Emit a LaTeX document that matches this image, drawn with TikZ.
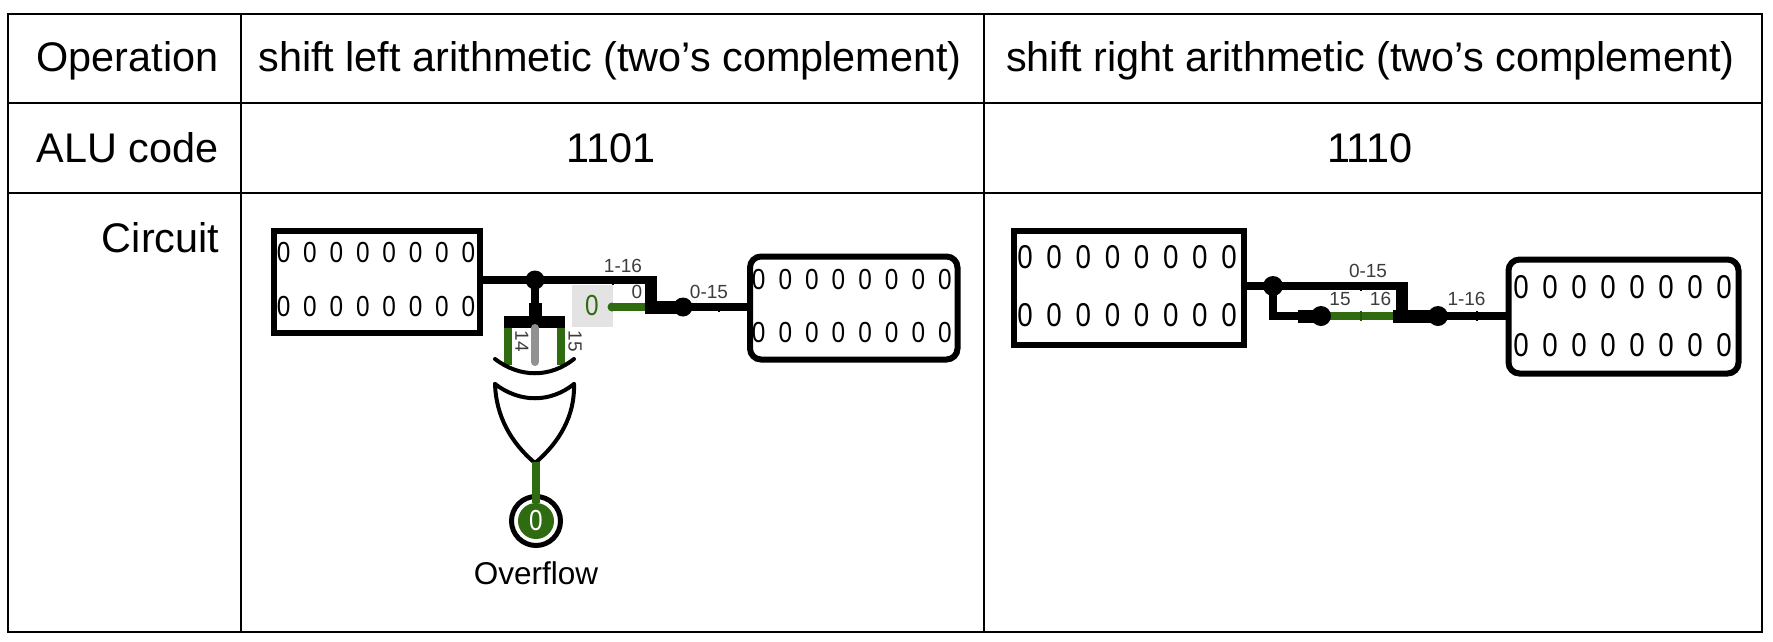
\documentclass[tikz,border=0pt]{standalone}
\usepackage{fontspec}
\setmainfont{Liberation Sans}
\definecolor{wiregreen}{HTML}{2F6B10}
\definecolor{wiregrey}{HTML}{929292}
\definecolor{pinbg}{HTML}{E3E3E3}
\definecolor{labelgrey}{HTML}{3C3C3C}
\newcommand{\fsz}[1]{\fontsize{#1pt}{#1pt}\selectfont}
\newcommand{\slimzero}{\scalebox{0.84}[1]{0}}
\tikzset{
  x=1pt,y=-1pt,
  gridline/.style={draw=black,line width=2pt},
  celltext/.style={inner sep=0,anchor=base,font=\fsz{41.4}},
  celltextr/.style={inner sep=0,anchor=base east,font=\fsz{41.4}},
  squarereg/.style={draw=black,line width=6pt,fill=white,inner sep=0,outer sep=0},
  roundreg/.style={draw=black,line width=6pt,fill=white,inner sep=0,outer sep=0,rounded corners=11pt},
  smalldigit/.style={inner sep=0,font=\fsz{29}},
  bigdigit/.style={inner sep=0,font=\fsz{33}},
  wirelabel/.style={inner sep=0,text=labelgrey,font=\fsz{19}},
  busw/.style={draw=black,line width=8pt},
  fatw/.style={draw=black,line width=13pt},
  greenw/.style={draw=wiregreen,line width=7.5pt},
  greyw/.style={draw=wiregrey,line width=8pt,line cap=round},
  tick/.style={draw=black,line width=2pt},
  gateline/.style={draw=black,line width=4pt,line cap=round,line join=round},
  junction/.style={circle,fill=black,inner sep=0,outer sep=0,minimum size=#1},
}
\begin{document}
\begin{tikzpicture}
\useasboundingbox (0,0) rectangle (1773,641);
\fill[white] (0,0) rectangle (1773,641);

% table grid
\draw[gridline] (8,13.5) rectangle (1762,632);
\draw[gridline] (8,103) -- (1762,103);
\draw[gridline] (8,192.5) -- (1762,192.5);
\draw[gridline] (241,13.5) -- (241,632);
\draw[gridline] (984,13.5) -- (984,632);

% table text
\node[celltextr] (opname) at (218.5,71) {Operation};
\node[celltextr] (aluname) at (218.5,162) {ALU code};
\node[celltextr] (circname) at (219.5,252) {Circuit};
\node[celltext] (opleft) at (610,71) {shift left arithmetic (two’s complement)};
\node[celltext] (opright) at (1370.5,71) {shift right arithmetic (two’s complement)};
\node[celltext] (codeleft) at (611,162) {1101};
\node[celltext] (coderight) at (1370,162) {1110};

% ---------- left circuit ----------
\node[squarereg,minimum width=205.5pt,minimum height=102pt] (lin) at (377,281.5) {};
\node[roundreg,minimum width=207.5pt,minimum height=103pt] (lout) at (853.75,308) {};
\foreach \i in {0,...,7}{
  \node[smalldigit] (lina\i) at ({283.6+26.4*\i},253) {\slimzero};
  \node[smalldigit] (linb\i) at ({283.6+26.4*\i},307) {\slimzero};
  \node[smalldigit] (louta\i) at ({758.7+26.6*\i},280) {\slimzero};
  \node[smalldigit] (loutb\i) at ({758.7+26.6*\i},333) {\slimzero};
}
\fill[pinbg] (572,285) rectangle (613,327);
\node[inner sep=0,text=wiregreen,font=\fsz{29}] (lconst) at (592,306) {\slimzero};

\coordinate (ljn) at (535,280);
\coordinate (lcorner) at (651,280);
\coordinate (lcornerb) at (651,307);
\coordinate (lmerge) at (683,307);
\coordinate (lgreenend) at (612,307);
\coordinate (lbaru) at (535,303);
\coordinate (lbarc) at (535,317);

\draw[greenw] (lgreenend) -- (lcornerb);
\fill[wiregreen] (lgreenend) circle (4.5);
\draw[busw] (lin.east |- ljn) -- (ljn) -- (lcorner);
\draw[draw=black,line width=12pt] (651,276) -- (lcornerb);
\draw[fatw] (645,307) -- (lmerge);
\draw[busw] (lmerge) -- (lout.west |- lmerge);
\node[junction=19pt] (ljunctop) at (ljn) {};
\node[junction=19pt] (ljuncout) at (lmerge) {};
\draw[busw] (ljn) -- (lbaru);
\draw[fatw] (lbaru) -- (lbarc);
\fill[black] (504,316) rectangle (565,328) coordinate (lbarend);

\coordinate (lg1t) at (508,328);
\coordinate (lg1b) at (508,365);
\coordinate (lg2t) at (561,328);
\coordinate (lg2b) at (561,365);
\coordinate (lg3t) at (535,328);
\coordinate (lg3b) at (535,362);
\draw[greenw] (lg1t) -- (lg1b);
\draw[greenw] (lg2t) -- (lg2b);
\draw[greyw] (lg3t) -- (lg3b);

\draw[tick] (613,276) -- (613,285);
\draw[tick] (719,303) -- (719,312);
\node[wirelabel] (l116) at (623,266) {1-16};
\node[wirelabel] (l0) at (637,292) {0};
\node[wirelabel] (l015) at (709,292) {0-15};
\node[wirelabel,rotate=-90] (l14) at (522,341) {14};
\node[wirelabel,rotate=-90] (l15) at (575,341) {15};

% xor gate
\draw[gateline] (495,359) .. controls (520,378) and (550,378) .. (574,359);
\draw[gateline] (495,384) .. controls (520,403) and (550,403) .. (574,384);
\draw[gateline] (495,384) .. controls (496,415) and (510,442) .. (535,463);
\draw[gateline] (574,384) .. controls (575,415) and (560,442) .. (535,463);

\coordinate (loutw) at (536,462);
\node[circle,draw=black,line width=5pt,fill=white,minimum size=49pt,inner sep=0] (lpin) at (536,521) {};
\node[circle,fill=wiregreen,minimum size=36pt,inner sep=0,text=white,font=\fsz{29}] (lpinv) at (536,521) {\slimzero};
\draw[greenw] (loutw) -- (lpinv.north);
\node[inner sep=0,font=\fsz{31.5}] (lover) at (536,573) {Overflow};

% ---------- right circuit ----------
\node[squarereg,minimum width=230pt,minimum height=114pt] (rin) at (1128.5,287.5) {};
\node[roundreg,minimum width=230pt,minimum height=114pt] (rout) at (1623.5,316.5) {};
\foreach \i in {0,...,7}{
  \node[bigdigit] (rina\i) at ({1025+29.15*\i},257) {\slimzero};
  \node[bigdigit] (rinb\i) at ({1025+29.15*\i},315) {\slimzero};
  \node[bigdigit] (routa\i) at ({1521+29*\i},287) {\slimzero};
  \node[bigdigit] (routb\i) at ({1521+29*\i},345) {\slimzero};
}
\coordinate (rjn) at (1273,286);
\coordinate (rcorner) at (1402,286);
\coordinate (rcornerb) at (1402,316);
\coordinate (rlow) at (1273,316);
\coordinate (rsplit) at (1321,316);
\coordinate (rgreenend) at (1393,316);
\coordinate (rmerge) at (1438,316);

\draw[greenw] (rsplit) -- (rgreenend);
\draw[busw] (rin.east |- rjn) -- (rjn) -- (rcorner);
\draw[draw=black,line width=12pt] (1402,282) -- (rcornerb);
\draw[busw] (rjn) -- (rlow) -- (rsplit);
\draw[fatw] (1298,316) -- (rsplit);
\draw[fatw] (rgreenend) -- (rmerge);
\draw[busw] (rmerge) -- (rout.west |- rmerge);
\node[junction=20pt] (rjunctop) at (rjn) {};
\node[junction=20pt] (rjunclow) at (rsplit) {};
\node[junction=20pt] (rjuncout) at (rmerge) {};

\draw[tick] (1360.5,282) -- (1360.5,291);
\draw[draw=wiregreen!80!black,line width=2pt] (1360.5,311) -- (1360.5,321);
\draw[tick] (1476.5,311) -- (1476.5,321);
\node[wirelabel] (r015) at (1368,271) {0-15};
\node[wirelabel] (r15) at (1340,299) {15};
\node[wirelabel] (r16) at (1380.5,299) {16};
\node[wirelabel] (r116) at (1466.5,299) {1-16};
\end{tikzpicture}
\end{document}
